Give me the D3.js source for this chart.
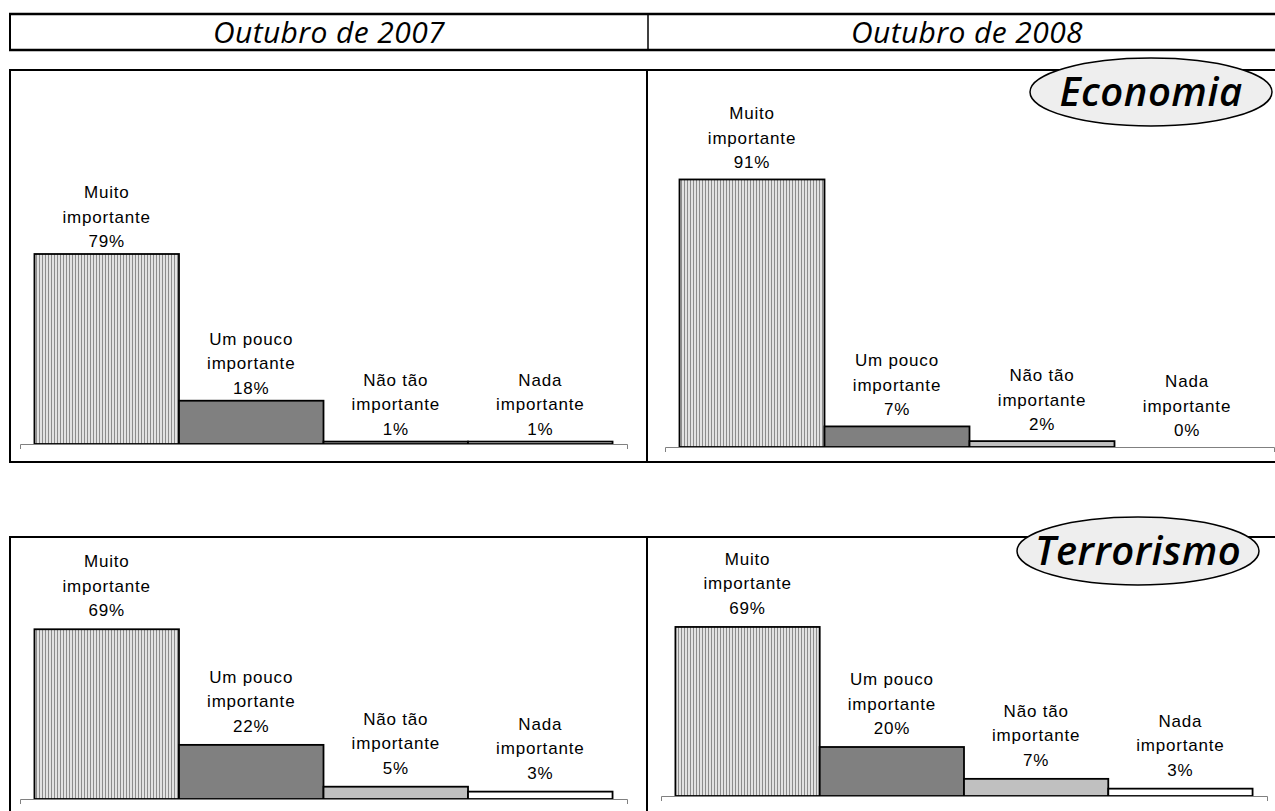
<!DOCTYPE html>
<html>
<head>
<meta charset="utf-8">
<script src="https://cdn.jsdelivr.net/npm/d3@7"></script>
<style>
  body { margin: 0; background: #fff; }
</style>
</head>
<body>
<script>
// categories and values
var categories = ["Muito importante", "Um pouco importante", "Não tão importante", "Nada importante"];
var labelLines = [["Muito", "importante"], ["Um pouco", "importante"], ["Não tão", "importante"], ["Nada", "importante"]];
var periods = ["Outubro de 2007", "Outubro de 2008"];
var topics = ["Economia", "Terrorismo"];

var economia2007 = [79, 18, 1, 1];
var economia2008 = [91, 7, 2, 0];
var terrorismo2007 = [69, 22, 5, 3];
var terrorismo2008 = [69, 20, 7, 3];

var width = 1275, height = 811;

var svg = d3.select("body").append("svg")
	.attr("width", width)
	.attr("height", height);

// striped fill of the first bar
var pat = svg.append("defs").append("pattern")
	.attr("id", "stripes")
	.attr("patternUnits", "userSpaceOnUse")
	.attr("width", 3)
	.attr("height", 10);
pat.append("rect").attr("width", 3).attr("height", 10).attr("fill", "#e2e2e2");
pat.append("rect").attr("width", 1).attr("height", 10).attr("fill", "#8c8c8c");

var fills = ["url(#stripes)", "#808080", "#c0c0c0", "#ffffff"];

function hline(x1, x2, y, w) {
	svg.append("line").attr("x1", x1).attr("x2", x2).attr("y1", y).attr("y2", y)
		.attr("stroke", "#000").attr("stroke-width", w);
}
function vline(x, y1, y2, w) {
	svg.append("line").attr("x1", x).attr("x2", x).attr("y1", y1).attr("y2", y2)
		.attr("stroke", "#000").attr("stroke-width", w);
}

// header row
hline(9, 1280, 14, 2.5);
hline(9, 1280, 50, 2.5);
vline(10, 14, 50, 2);
vline(648, 14, 50, 1.5);

svg.selectAll(".period")
	.data(periods)
	.enter().append("text")
	.attr("class", "period")
	.attr("x", function(d, i){ return i == 0 ? 329 : 967; })
	.attr("y", 43)
	.attr("text-anchor", "middle")
	.style("font-family", "'Open Sans', sans-serif")
	.style("font-style", "italic")
	.style("font-size", "30px")
	.style("letter-spacing", "0.4px")
	.text(function(d){ return d; });

// panel frames
hline(9, 1280, 70, 2);
hline(9, 1280, 462, 2);
vline(10, 70, 462, 2);
vline(647, 70, 462, 2);

hline(9, 1280, 537, 2);
vline(10, 537, 811, 2);
vline(647, 537, 811, 2);

// one bar chart per panel
var panels = [
	{values: economia2007, x0: 20, x1: 627, base: 444, top: 203.5, gap: 7},
	{values: economia2008, x0: 665, x1: 1274, base: 447, top: 153, gap: 11},
	{values: terrorismo2007, x0: 20, x1: 627, base: 799, top: 553, gap: 13},
	{values: terrorismo2008, x0: 661, x1: 1267, base: 796, top: 551, gap: 13}
];

panels.forEach(function(p){
	var xScale = d3.scaleBand()
		.domain(categories)
		.range([p.x0, p.x1])
		.paddingInner(0)
		.paddingOuter(0.1);

	var yScale = d3.scaleLinear()
		.domain([0, 100])
		.range([p.base, p.top]);

	var data = categories.map(function(c, i){ return {cat: c, v: p.values[i], i: i}; });

	var g = svg.append("g");

	g.selectAll("rect")
		.data(data)
		.enter().append("rect")
		.attr("x", function(d){ return xScale(d.cat); })
		.attr("y", function(d){ return yScale(d.v); })
		.attr("width", xScale.bandwidth())
		.attr("height", function(d){ return p.base - yScale(d.v); })
		.attr("fill", function(d){ return fills[d.i]; })
		.attr("stroke", "#000")
		.attr("stroke-width", 1.8);

	var axis = g.append("g")
		.attr("transform", "translate(0," + p.base + ")")
		.call(d3.axisBottom(xScale).tickValues([]).tickSizeOuter(5));
	axis.select(".domain").attr("stroke", "#808080").attr("stroke-width", 1);

	var lbl = g.selectAll(".lbl")
		.data(data)
		.enter().append("text")
		.attr("class", "lbl")
		.attr("text-anchor", "middle")
		.style("font-family", "'Liberation Sans', Arial, sans-serif")
		.style("font-size", "17px")
		.style("letter-spacing", "0.8px");

	lbl.each(function(d){
		var lines = labelLines[d.i].concat([d.v + "%"]);
		var cx = xScale(d.cat) + xScale.bandwidth() / 2;
		var last = yScale(d.v) - p.gap;
		var t = d3.select(this);
		lines.forEach(function(s, k){
			t.append("tspan")
				.attr("x", cx)
				.attr("y", last - (lines.length - 1 - k) * 24.5)
				.text(s);
		});
	});
});

// topic badges
var badges = [
	{cx: 1151, cy: 92},
	{cx: 1138, cy: 551}
];

var badge = svg.selectAll(".badge")
	.data(topics)
	.enter().append("g")
	.attr("class", "badge")
	.attr("transform", function(d, i){ return "translate(" + badges[i].cx + "," + badges[i].cy + ")"; });

badge.append("ellipse")
	.attr("rx", 121)
	.attr("ry", 34)
	.attr("fill", "#eeeeee")
	.attr("stroke", "#000")
	.attr("stroke-width", 1.5);

badge.append("text")
	.attr("y", 14)
	.attr("text-anchor", "middle")
	.style("font-family", "'Open Sans', sans-serif")
	.style("font-style", "italic")
	.style("font-weight", "600")
	.style("font-size", "40px")
	.style("letter-spacing", "0.5px")
	.text(function(d){ return d; });
</script>
</body>
</html>
